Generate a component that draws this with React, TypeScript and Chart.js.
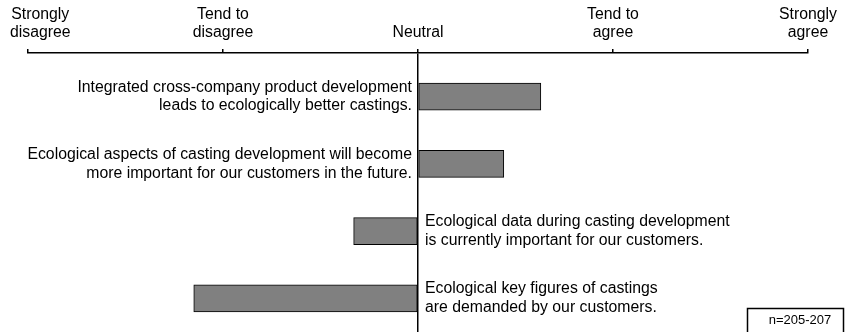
import React, { useEffect, useRef } from "react";
import { Chart, registerables } from "chart.js";

Chart.register(...registerables);

const tickValues = [-2, -1, 0, 1, 2];
const tickLabels: string[][] = [
  ["Strongly", "disagree"],
  ["Tend to", "disagree"],
  ["Neutral"],
  ["Tend to", "agree"],
  ["Strongly", "agree"],
];
const statements: string[][] = [
  ["Integrated cross-company product development", "leads to ecologically better castings."],
  ["Ecological aspects of casting development will become", "more important for our customers in the future."],
  ["Ecological data during casting development", "is currently important for our customers."],
  ["Ecological key figures of castings", "are demanded by our customers."],
];
const meanScores = [0.63, 0.44, -0.33, -1.15];
const sampleNote = "n=205-207";

const FONT = "'Liberation Sans', Arial, sans-serif";
const FS = 15.8;

const labelPlugin = {
  id: "customLabels",
  afterDatasetsDraw(chart: any) {
    const ctx = chart.ctx;
    const meta = chart.getDatasetMeta(0);
    const xs = chart.scales.x;
    const zero = xs.getPixelForValue(0);
    ctx.save();
    ctx.font = `${FS}px ${FONT}`;
    ctx.fillStyle = "#000";
    ctx.textBaseline = "middle";
    // statements beside bars
    meta.data.forEach((bar: any, i: number) => {
      const lines = statements[i];
      const positive = meanScores[i] >= 0;
      ctx.textAlign = positive ? "right" : "left";
      const x = positive ? zero - 6 : zero + 7;
      const lh = 18.5;
      const y0 = bar.y - ((lines.length - 1) * lh) / 2;
      lines.forEach((ln, j) => ctx.fillText(ln, x, y0 + j * lh));
    });
    // axis tick labels (kept inside the canvas)
    ctx.textAlign = "center";
    const W = chart.width;
    tickValues.forEach((v, i) => {
      const lines = tickLabels[i];
      const w = Math.max(...lines.map((l) => ctx.measureText(l).width));
      let cx = xs.getPixelForValue(v);
      cx = Math.max(cx, 10 + w / 2);
      cx = Math.min(cx, W - 7 - w / 2);
      const lastY = xs.bottom - 20;
      lines.forEach((ln, j) => {
        ctx.fillText(ln, cx, lastY - (lines.length - 1 - j) * 18.3);
      });
    });
    ctx.restore();
  },
  afterDraw(chart: any) {
    const ctx = chart.ctx;
    ctx.save();
    ctx.fillStyle = "#fff";
    ctx.fillRect(747.5, 308.5, 96, 30);
    ctx.strokeStyle = "#000";
    ctx.lineWidth = 1.5;
    ctx.strokeRect(747.5, 308.5, 96, 30);
    ctx.fillStyle = "#000";
    ctx.font = `13px ${FONT}`;
    ctx.textAlign = "center";
    ctx.textBaseline = "middle";
    ctx.fillText(sampleNote, 800, 320.5);
    ctx.restore();
  },
};

export default function App() {
  const ref = useRef<HTMLCanvasElement>(null);
  useEffect(() => {
    if (!ref.current) return;
    const chart = new Chart(ref.current, {
      type: "bar",
      data: {
        datasets: [
          {
            data: meanScores.map((v, i) => ({ x: v, y: i })),
            backgroundColor: "#808080",
            borderColor: "#000",
            borderWidth: 1,
            borderSkipped: false,
            barThickness: 27,
          } as any,
        ],
      },
      options: {
        indexAxis: "y",
        animation: false,
        responsive: false,
        layout: { padding: { left: 28, right: 38, top: 0, bottom: 0 } },
        plugins: { legend: { display: false }, tooltip: { enabled: false } },
        scales: {
          x: {
            type: "linear",
            position: "top",
            min: -2,
            max: 2,
            afterBuildTicks: (scale: any) => {
              scale.ticks = tickValues.map((v) => ({ value: v }));
            },
            afterFit: (scale: any) => {
              scale.height = 53;
              scale.paddingLeft = 0;
              scale.paddingRight = 0;
            },
            ticks: { display: false, autoSkip: false },
            grid: {
              drawOnChartArea: true,
              drawTicks: true,
              tickLength: 4,
              lineWidth: 1.5,
              color: (c: any) => (c.tick && c.tick.value === 0 ? "#000" : "rgba(0,0,0,0)"),
              tickColor: "#000",
            },
            border: { display: true, color: "#000", width: 1.5 },
          },
          y: {
            type: "linear",
            reverse: true,
            offset: false,
            min: -0.65,
            max: 3.5,
            display: false,
          },
        },
      },
      plugins: [labelPlugin],
    } as any);
    return () => chart.destroy();
  }, []);
  return (
    <div style={{ position: "fixed", left: 0, top: 0, width: 846, height: 332, background: "#fff" }}>
      <canvas ref={ref} width={846} height={332} style={{ display: "block" }} />
    </div>
  );
}
